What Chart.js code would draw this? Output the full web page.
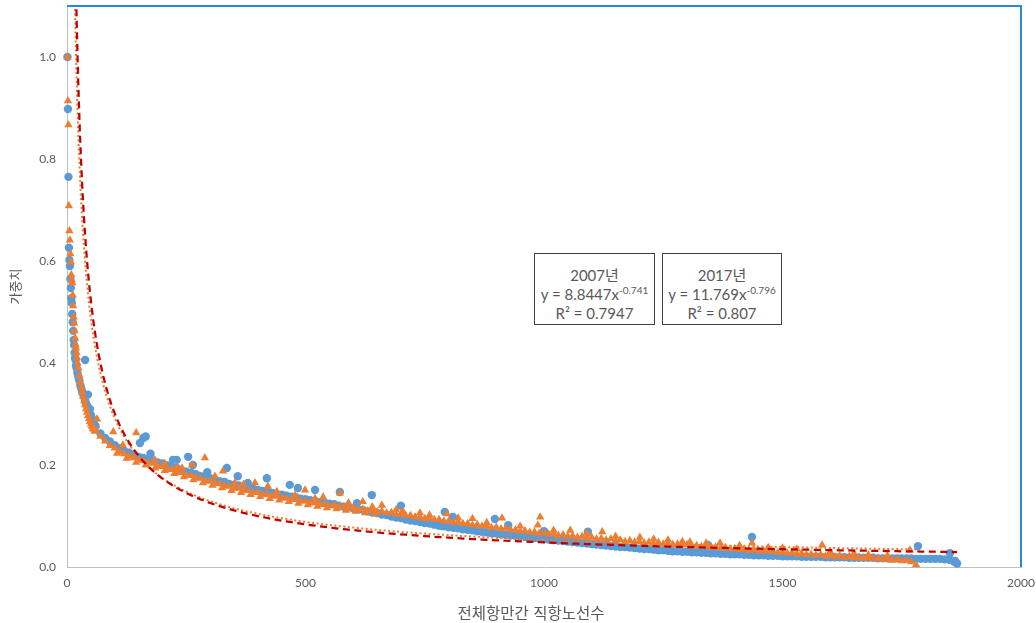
<!DOCTYPE html>
<html lang="ko">
<head>
<meta charset="utf-8">
<title>가중치 - 직항노선수</title>
<script src="https://cdn.jsdelivr.net/npm/chart.js@4.4.1/dist/chart.umd.min.js"></script>
<style>
  html, body { margin: 0; padding: 0; background: #ffffff; }
  #wrap { position: relative; width: 1036px; height: 623px; }
  canvas { display: block; }
  .eq {
    position: absolute; top: 253px; height: 72px; box-sizing: border-box;
    border: 1px solid #404040; background: #ffffff;
    font-family: Lato, "Noto Sans CJK KR", sans-serif; font-size: 15px; color: #595959;
    text-align: center; line-height: 19px; padding-top: 12px; white-space: nowrap;
  }
  .eq sup { font-size: 10px; line-height: 0; vertical-align: 6px; }
  #xTitle {
    position: absolute; left: 381px; width: 300px; top: 602px; line-height: 20px;
    text-align: center; white-space: pre;
    font-family: "Noto Sans CJK KR", sans-serif; font-size: 15.5px; color: #595959;
  }
</style>
</head>
<body>
<div id="wrap">
  <canvas id="chart" width="1036" height="623"></canvas>
  <div class="eq" id="eqA" style="left:534px;width:121px;"></div>
  <div class="eq" id="eqB" style="left:662px;width:120px;"></div>
  <div id="xTitle"></div>
</div>
<script>
// ---- 2017: route rank vs weight (blue circles) ----
// steep head, listed as [rank, weight]
const head2017 = [
  [1,1.0],[2,0.898],[3,0.765],[4,0.626],[5,0.602],[6,0.59],[7,0.565],[8,0.547],[9,0.527],[10,0.518],
  [11,0.496],[12,0.48],[13,0.463],[14,0.445],[15,0.435],[16,0.42],[17,0.41],[18,0.406],[19,0.395],[20,0.39],
  [22,0.38],[24,0.372],[26,0.365],[28,0.356],[30,0.35],[32,0.343],[34,0.338],[36,0.333],[38,0.326],[40,0.32],
  [42,0.316],[44,0.31],[46,0.305],[48,0.31],[50,0.298],[52,0.292],[54,0.288],[56,0.283],[58,0.278]
];
// body: weights for ranks 60, 70, 80, ... 1860
const bodyStart = 60;
const bodyStep = 10;
const body2017 = [
  0.276,0.262,0.253,0.246,0.239,0.233,0.228,0.224,0.22,0.216,
  0.214,0.211,0.208,0.205,0.203,0.199,0.196,0.194,0.19,0.187,
  0.185,0.182,0.178,0.176,0.174,0.171,0.168,0.167,0.163,0.161,
  0.16,0.157,0.155,0.154,0.151,0.149,0.148,0.145,0.143,0.142,
  0.14,0.138,0.137,0.134,0.133,0.131,0.13,0.127,0.126,0.124,
  0.123,0.12,0.118,0.117,0.115,0.113,0.112,0.109,0.107,0.106,
  0.103,0.102,0.099,0.097,0.096,0.093,0.091,0.09,0.088,0.086,
  0.085,0.083,0.081,0.08,0.078,0.077,0.076,0.074,0.073,0.072,
  0.07,0.069,0.068,0.066,0.066,0.064,0.063,0.062,0.061,0.06,
  0.059,0.058,0.057,0.056,0.055,0.054,0.053,0.052,0.051,0.05,
  0.049,0.048,0.047,0.046,0.045,0.044,0.043,0.042,0.041,0.04,
  0.039,0.039,0.038,0.037,0.036,0.035,0.035,0.034,0.033,0.033,
  0.032,0.031,0.031,0.03,0.03,0.029,0.029,0.028,0.028,0.027,
  0.027,0.026,0.026,0.025,0.025,0.025,0.024,0.024,0.023,0.023,
  0.023,0.022,0.022,0.022,0.021,0.021,0.021,0.021,0.02,0.02,
  0.02,0.02,0.02,0.019,0.019,0.019,0.019,0.019,0.018,0.018,
  0.018,0.018,0.018,0.018,0.017,0.017,0.017,0.017,0.017,0.017,
  0.017,0.017,0.016,0.016,0.016,0.016,0.016,0.016,0.015,0.014,0.01
];
// scattered routes off the main band
const extra2017 = [
  [38,0.406],[44,0.338],[153,0.243],[160,0.253],[165,0.256],[175,0.222],[222,0.21],[230,0.21],
  [254,0.216],[264,0.2],[294,0.186],[335,0.194],[358,0.178],[379,0.165],[419,0.174],[467,0.161],
  [484,0.155],[520,0.151],[572,0.147],[608,0.125],[639,0.141],[700,0.12],[792,0.108],[809,0.098],
  [897,0.094],[925,0.082],[1000,0.07],[1092,0.069],[1344,0.043],[1436,0.059],[1784,0.041],
  [1851,0.027],[1862,0.012],[1866,0.007]
];

// ---- 2007: route rank vs weight (orange triangles) ----
const head2007 = [
  [1,1.0],[2,0.914],[3,0.867],[4,0.708],[5,0.659],[6,0.641],[7,0.614],[8,0.598],[9,0.573],[10,0.563],
  [11,0.557],[12,0.533],[13,0.512],[14,0.49],[15,0.478],[16,0.463],[17,0.449],[18,0.435],[19,0.429],[20,0.42],
  [21,0.41],[22,0.4],[24,0.39],[26,0.375],[28,0.362],[30,0.352],[32,0.342],[34,0.334],[36,0.326],[38,0.318],
  [40,0.31],[42,0.303],[44,0.297],[46,0.291],[48,0.285],[50,0.28],[52,0.276],[54,0.272],[56,0.27],[58,0.266]
];
// body: weights for ranks 60, 70, 80, ... 1780
const body2007 = [
  0.269,0.256,0.247,0.238,0.233,0.226,0.222,0.217,0.214,0.209,
  0.208,0.204,0.203,0.198,0.197,0.192,0.191,0.186,0.185,0.18,
  0.179,0.175,0.174,0.169,0.168,0.164,0.163,0.159,0.158,0.154,
  0.154,0.15,0.15,0.146,0.146,0.142,0.142,0.139,0.139,0.135,
  0.135,0.132,0.132,0.129,0.129,0.126,0.126,0.123,0.123,0.12,
  0.121,0.118,0.118,0.115,0.116,0.113,0.113,0.11,0.111,0.108,
  0.109,0.106,0.107,0.103,0.104,0.101,0.101,0.098,0.098,0.095,
  0.096,0.093,0.093,0.09,0.09,0.087,0.088,0.085,0.085,0.082,
  0.083,0.08,0.081,0.077,0.078,0.075,0.076,0.073,0.073,0.07,
  0.071,0.068,0.069,0.066,0.067,0.064,0.065,0.062,0.063,0.06,
  0.061,0.058,0.06,0.057,0.058,0.055,0.056,0.053,0.055,0.052,
  0.053,0.05,0.052,0.049,0.05,0.047,0.049,0.046,0.048,0.045,
  0.046,0.044,0.045,0.043,0.044,0.041,0.042,0.04,0.041,0.038,
  0.039,0.037,0.038,0.035,0.036,0.034,0.035,0.032,0.034,0.031,
  0.032,0.03,0.031,0.028,0.03,0.027,0.028,0.025,0.027,0.024,
  0.025,0.023,0.024,0.021,0.023,0.02,0.022,0.019,0.021,0.018,
  0.019,0.017,0.018,0.016,0.017,0.015,0.016,0.013,0.015,0.012,
  0.013,0.01,0.004
];
// lower edge of the dense band: weights for ranks 105, 125, ... 645
const lowerStart = 105;
const lowerStep = 20;
const lower2007 = [
  0.223,0.213,0.205,0.2,0.194,0.189,0.183,0.177,0.171,0.165,
  0.16,0.155,0.15,0.146,0.142,0.138,0.134,0.131,0.128,0.125,
  0.122,0.119,0.116,0.114,0.111,0.109,0.106,0.104
];
const extra2007 = [
  [63,0.29],[97,0.265],[117,0.239],[145,0.263],[184,0.21],[205,0.203],[230,0.196],[241,0.194],
  [262,0.2],[289,0.214],[310,0.178],[327,0.188],[352,0.165],[370,0.162],[394,0.165],[421,0.158],
  [440,0.148],[478,0.141],[499,0.151],[520,0.134],[537,0.137],[572,0.145],[590,0.126],[620,0.128],
  [640,0.118],[660,0.121],[690,0.112],[704,0.109],[740,0.106],[760,0.102],[797,0.104],[820,0.096],
  [850,0.095],[880,0.087],[912,0.096],[950,0.08],[987,0.082],[992,0.098],[1020,0.072],[1055,0.072],
  [1090,0.066],[1122,0.069],[1150,0.06],[1201,0.058],[1230,0.055],[1260,0.053],[1290,0.05],
  [1306,0.049],[1340,0.047],[1369,0.047],[1410,0.042],[1436,0.047],[1470,0.038],[1500,0.037],
  [1530,0.035],[1583,0.043],[1600,0.03],[1650,0.027],[1680,0.024],[1720,0.022],[1767,0.033]
];

// power-law fits: [coefficient, exponent, R²]
const fit2007 = [8.8447, -0.741, 0.7947];
const fit2017 = [11.769, -0.796, 0.807];

// axis ticks and titles
const xTicks = [0, 500, 1000, 1500, 2000];
const yTicks = [0.0, 0.2, 0.4, 0.6, 0.8, 1.0];
const yMax = 1.1;
const xTitleText = '전체항만간 직항노선수';
const yTitleText = '가중치';

function seriesPoints(head, body, extra, edge) {
  const pts = head.map(([x, y]) => ({ x, y }));
  body.forEach((y, i) => pts.push({ x: bodyStart + i * bodyStep, y }));
  if (edge) edge.forEach((y, i) => pts.push({ x: lowerStart + i * lowerStep, y }));
  extra.forEach(([x, y]) => pts.push({ x, y }));
  return pts;
}
const pts2017 = seriesPoints(head2017, body2017, extra2017, null);
const pts2007 = seriesPoints(head2007, body2007, extra2007, lower2007);

function lastRank(pts) { return Math.max(...pts.map(p => p.x)); }
function fitCurve(fit, endRank) {
  const [a, b] = fit;
  const out = [];
  for (let r = 10; r <= 100; r++) out.push({ x: r, y: a * Math.pow(r, b) });
  for (let r = 110; r < endRank; r += 10) out.push({ x: r, y: a * Math.pow(r, b) });
  out.push({ x: endRank, y: a * Math.pow(endRank, b) });
  return out;
}

// equation boxes
function eqHtml(year, fit) {
  const [a, b, r2] = fit;
  return year + '년<br>y = ' + a + 'x<sup>' + b + '</sup><br>R² = ' + r2;
}
document.getElementById('eqA').innerHTML = eqHtml('2007', fit2007);
document.getElementById('eqB').innerHTML = eqHtml('2017', fit2017);
document.getElementById('xTitle').textContent = xTitleText;

// blue frame on the top and right of the plot area
const frameLines = {
  id: 'frameLines',
  afterDatasetsDraw(chart) {
    const { ctx, chartArea: a } = chart;
    ctx.save();
    ctx.strokeStyle = '#2B87DA';
    ctx.lineWidth = 2;
    ctx.beginPath();
    ctx.moveTo(a.left, a.top);
    ctx.lineTo(a.right, a.top);
    ctx.lineTo(a.right, a.bottom);
    ctx.stroke();
    ctx.restore();
  }
};

const gray = '#595959';
new Chart(document.getElementById('chart'), {
  type: 'scatter',
  data: {
    datasets: [
      {
        label: '2017 추세선', data: fitCurve(fit2017, lastRank(pts2017)), showLine: true,
        borderColor: '#C00000', borderWidth: 2.25, borderDash: [7, 4.5], pointRadius: 0, order: 0
      },
      {
        label: '2007 추세선', data: fitCurve(fit2007, lastRank(pts2007)), showLine: true,
        borderColor: '#ED7D31', borderWidth: 2, borderDash: [2, 2.5], pointRadius: 0, order: 0
      },
      {
        label: '2007년', data: pts2007, pointStyle: 'triangle', pointRadius: 4.8,
        backgroundColor: '#ED7D31', borderWidth: 0, order: 1, clip: false
      },
      {
        label: '2017년', data: pts2017, pointStyle: 'circle', pointRadius: 4.2,
        backgroundColor: '#5B9BD5', borderWidth: 0, order: 2, clip: false
      }
    ]
  },
  options: {
    responsive: false,
    animation: false,
    events: [],
    layout: { padding: { top: 6, right: 15, left: 0, bottom: 0 } },
    plugins: { legend: { display: false }, tooltip: { enabled: false } },
    scales: {
      x: {
        type: 'linear', min: xTicks[0], max: xTicks[xTicks.length - 1],
        afterBuildTicks: s => { s.ticks = xTicks.map(v => ({ value: v })); },
        ticks: { color: gray, font: { family: 'Lato', size: 12 }, padding: 9, maxRotation: 0,
                 callback: v => String(v) },
        grid: { display: false, drawTicks: false },
        border: { color: '#BFBFBF', width: 1 },
        afterFit: s => { s.height = 56; s.paddingLeft = 0; s.paddingRight = 0; }
      },
      y: {
        type: 'linear', min: 0, max: yMax,
        afterBuildTicks: s => { s.ticks = yTicks.map(v => ({ value: v })); },
        ticks: { color: gray, font: { family: 'Lato', size: 12 }, padding: 11, callback: v => v.toFixed(1) },
        grid: { display: false, drawTicks: false },
        border: { color: '#BFBFBF', width: 1 },
        title: {
          display: true, text: yTitleText, color: gray,
          font: { family: '"Noto Sans CJK KR"', size: 13 }, padding: { top: 7, bottom: 0 }
        },
        afterFit: s => { s.width = 67; s.paddingTop = 0; s.paddingBottom = 0; }
      }
    }
  },
  plugins: [frameLines]
});
</script>
</body>
</html>
